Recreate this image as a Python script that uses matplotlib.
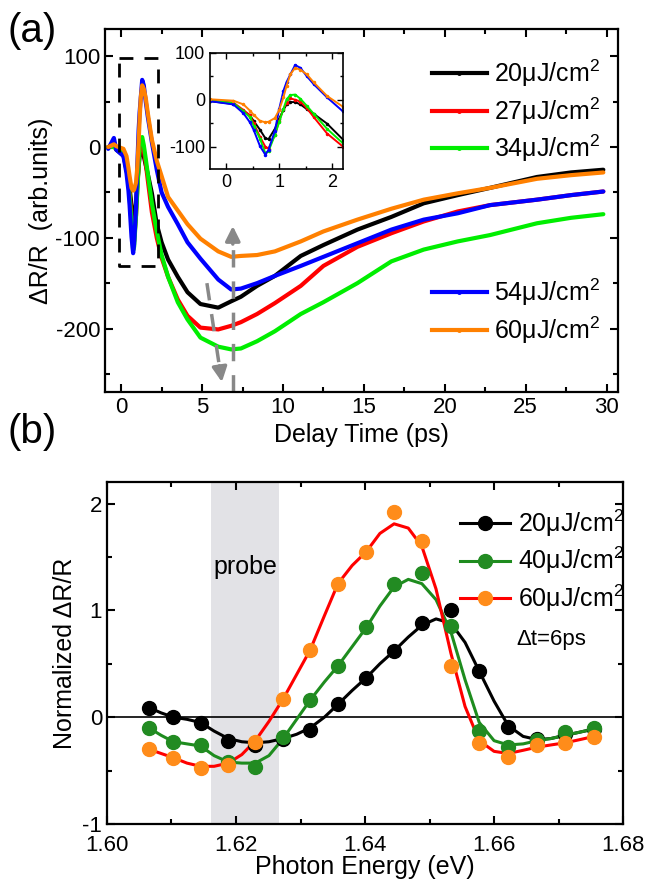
import matplotlib
matplotlib.use("Agg")
import matplotlib.pyplot as plt
from matplotlib.lines import Line2D
from matplotlib.ticker import MultipleLocator

plt.rcParams['font.family'] = ['Liberation Sans', 'DejaVu Sans']
plt.rcParams['mathtext.default'] = 'regular'
plt.rcParams['axes.unicode_minus'] = False

#========== DATA (a) ==========#

delay = [-0.8, -0.45, -0.3, 0.14, 0.33, 0.45, 0.52, 0.64, 0.74, 0.8, 0.92, 1.0,
         1.08, 1.14, 1.21, 1.3, 1.4, 1.52, 1.65, 1.9,
         2.2, 2.5, 2.9, 3.5, 4.1, 4.9, 6.0, 6.8, 7.4, 8.4, 9.5, 11.1, 12.5,
         14.6, 16.7, 18.7, 20.8, 22.8, 25.7, 27.8, 29.8]

dr_20 = [0, 2, -3, -9, -25, -33, -45, -64, -82, -84, -62, -40,
         -22, -10, -5, -5, -10, -20, -30, -51,
         -85, -105, -124, -143, -160, -173, -177, -170, -165, -153, -142, -120, -108,
         -91, -77, -62, -53, -45, -33, -28, -25]
dr_27 = [0, 2, -2, -6, -22, -33, -50, -79, -100, -104, -75, -45,
         -20, -6, 3, 0, -4, -18, -37, -72,
         -100, -122, -143, -168, -186, -199, -201, -197, -193, -184, -172, -153, -131,
         -110, -95, -82, -71, -64, -58, -53, -49]
dr_34 = [0, 0, -2, -7, -25, -37, -55, -83, -114, -110, -75, -48,
         -20, 1, 10, 11, 2, -13, -30, -62,
         -93, -119, -143, -171, -190, -210, -220, -223, -222, -214, -203, -184, -171,
         -150, -126, -113, -104, -97, -84, -78, -74]
dr_54 = [-2, 10, -3, -10, -29, -48, -64, -99, -117, -107, -66, -20,
         19, 38, 54, 74, 68, 50, 33, 5,
         -25, -50, -66, -85, -105, -123, -146, -157, -156, -150, -142, -131, -121,
         -106, -91, -80, -73, -64, -58, -53, -49]
dr_60 = [0, 3, 1, -2, -10, -23, -32, -45, -48, -47, -39, -22,
         5, 30, 54, 68, 64, 54, 37, 8,
         -15, -32, -55, -70, -85, -101, -115, -121, -120, -119, -115, -104, -93,
         -80, -68, -58, -51, -45, -35, -31, -28]

fluences_a = ["20", "27", "34", "54", "60"]
colors_a = ["#000000", "#ff0000", "#00ee00", "#0000ff", "#ff8000"]

#========== DATA (b) ==========#

energy = [1.6065, 1.6103, 1.6145, 1.6188, 1.6230, 1.6273, 1.6315, 1.6358, 1.6402,
          1.6445, 1.6488, 1.6533, 1.6577, 1.6622, 1.6667, 1.6710, 1.6755]
norm_20 = [0.09, 0.0, -0.05, -0.22, -0.26, -0.2, -0.12, 0.12, 0.37,
           0.62, 0.88, 1.0, 0.43, -0.09, -0.2, -0.16, -0.11]
norm_40 = [-0.1, -0.23, -0.26, -0.42, -0.47, -0.19, 0.16, 0.48, 0.84,
           1.25, 1.35, 0.85, -0.13, -0.28, -0.21, -0.14, -0.1]
norm_60 = [-0.3, -0.38, -0.48, -0.45, -0.23, 0.17, 0.63, 1.25, 1.55,
           1.92, 1.65, 0.48, -0.24, -0.37, -0.26, -0.24, -0.19]

# fitted curves read at the data energies and the midpoints between them
fit_energy = [1.6065, 1.6084, 1.6103, 1.6124, 1.6145, 1.6166, 1.6188, 1.6209, 1.6230,
              1.6251, 1.6273, 1.6294, 1.6315, 1.6337, 1.6358, 1.6380, 1.6402, 1.6423,
              1.6445, 1.6467, 1.6488, 1.6510, 1.6533, 1.6555, 1.6577, 1.6600, 1.6622,
              1.6645, 1.6667, 1.6688, 1.6710, 1.6733, 1.6755]
fit_20 = [0.09, 0.04, 0.0, -0.02, -0.05, -0.13, -0.2, -0.23, -0.24,
          -0.23, -0.2, -0.16, -0.1, 0.0, 0.12, 0.25, 0.37, 0.5,
          0.62, 0.75, 0.86, 0.92, 0.88, 0.7, 0.43, 0.15, -0.08,
          -0.18, -0.21, -0.2, -0.17, -0.14, -0.11]
fit_40 = [-0.1, -0.17, -0.23, -0.25, -0.27, -0.36, -0.42, -0.43, -0.43,
          -0.36, -0.2, -0.02, 0.16, 0.33, 0.48, 0.66, 0.84, 1.04,
          1.22, 1.29, 1.25, 1.1, 0.8, 0.35, -0.05, -0.22, -0.26,
          -0.25, -0.22, -0.2, -0.17, -0.14, -0.11]
fit_60 = [-0.3, -0.34, -0.38, -0.43, -0.46, -0.46, -0.43, -0.35, -0.22,
          -0.04, 0.17, 0.4, 0.63, 0.95, 1.25, 1.42, 1.55, 1.72,
          1.81, 1.77, 1.6, 1.2, 0.6, 0.1, -0.22, -0.32, -0.34,
          -0.31, -0.28, -0.26, -0.24, -0.21, -0.18]

fluences_b = ["20", "40", "60"]
line_colors_b = ["#000000", "#1e8c1e", "#ff0000"]
dot_colors_b = ["#000000", "#228b22", "#ff8c1a"]

#========== FIGURE ==========#


def style_axes(axes, size=16):
    """ticks inward on all four sides"""
    axes.tick_params(which="both", direction="in", top=True, right=True,
                     labelsize=size, width=1.5)
    axes.tick_params(which="major", length=6)
    axes.tick_params(which="minor", length=3.5)
    for spine in axes.spines.values():
        spine.set_linewidth(1.6)


def fluence_label(value):
    return value + "\u03bcJ/cm$^2$"


fig = plt.figure(figsize=(6.46, 8.81), dpi=100)

# ---- panel (a) ----
ax_a = fig.add_axes([0.1625, 0.555, 0.794, 0.412])
series_a = [dr_20, dr_27, dr_34, dr_54, dr_60]
handles_a = []
for values, color, label in zip(series_a, colors_a, fluences_a):
    ax_a.plot(delay, values, color=color, lw=3, solid_capstyle="round")
    handles_a.append(Line2D([], [], color=color, lw=3, marker=".", markersize=5,
                            markevery=[1], label=fluence_label(label)))

ax_a.set_xlim(-1, 30.7)
ax_a.set_ylim(-270, 130)
ax_a.xaxis.set_major_locator(MultipleLocator(5))
ax_a.xaxis.set_minor_locator(MultipleLocator(2.5))
ax_a.yaxis.set_major_locator(MultipleLocator(100))
ax_a.yaxis.set_minor_locator(MultipleLocator(50))
style_axes(ax_a)
ax_a.set_xlabel("Delay Time (ps)", fontsize=18, labelpad=4)
ax_a.set_ylabel("\u0394R/R  (arb.units)", fontsize=18, labelpad=2)

# dashed box around the early-time region
ax_a.plot([-0.12, 2.3, 2.3, -0.12, -0.12], [98, 98, -131, -131, 98],
          color="black", lw=2, ls=(0, (5, 4)))

# grey dashed arrows
ax_a.plot([5.3, 6.1], [-150, -245], color="#888888", lw=2.5, ls=(0, (5, 4)))
ax_a.annotate("", xy=(6.25, -262), xytext=(6.05, -238),
              arrowprops=dict(arrowstyle="-|>", color="#888888", lw=2.5,
                              mutation_scale=22))
ax_a.plot([6.9, 6.9], [-270, -100], color="#888888", lw=2.5, ls=(0, (5, 4)),
          clip_on=False)
ax_a.annotate("", xy=(6.9, -84), xytext=(6.9, -110),
              arrowprops=dict(arrowstyle="-|>", color="#888888", lw=2.5,
                              mutation_scale=22))

leg1 = ax_a.legend(handles=handles_a[:3], loc="upper right", fontsize=18,
                   frameon=False, handlelength=2.2, handletextpad=0.3,
                   labelspacing=0.25, borderaxespad=0.3,
                   bbox_to_anchor=(1.0, 0.97))
ax_a.add_artist(leg1)
ax_a.legend(handles=handles_a[3:], loc="lower right", fontsize=18,
            frameon=False, handlelength=2.2, handletextpad=0.3,
            labelspacing=0.25, borderaxespad=0.3, bbox_to_anchor=(1.0, 0.08))

fig.text(0.012, 0.952, "(a)", fontsize=29)

# ---- inset ----
ax_in = fig.add_axes([0.325, 0.808, 0.206, 0.132])
for values, color in zip(series_a, colors_a):
    ax_in.plot(delay, values, color=color, lw=1.4, marker=".", markersize=3)
ax_in.set_xlim(-0.3, 2.2)
ax_in.set_ylim(-148, 100)
ax_in.xaxis.set_major_locator(MultipleLocator(1))
ax_in.xaxis.set_minor_locator(MultipleLocator(0.5))
ax_in.yaxis.set_major_locator(MultipleLocator(100))
ax_in.yaxis.set_minor_locator(MultipleLocator(50))
ax_in.tick_params(which="both", direction="in", top=True, right=True,
                  labelsize=13, width=1)
ax_in.tick_params(which="major", length=4)
ax_in.tick_params(which="minor", length=2.5)
for spine in ax_in.spines.values():
    spine.set_linewidth(1.2)

# ---- panel (b) ----
ax_b = fig.add_axes([0.1656, 0.0647, 0.799, 0.388])
ax_b.axvspan(1.6161, 1.6267, color="#e2e2e6", zorder=0, lw=0)
ax_b.axhline(0, color="black", lw=1.2, zorder=1)
fits_b = [fit_20, fit_40, fit_60]
points_b = [norm_20, norm_40, norm_60]
handles_b = []
for fit, pts, lcol, dcol, label in zip(fits_b, points_b, line_colors_b,
                                       dot_colors_b, fluences_b):
    ax_b.plot(fit_energy, fit, color=lcol, lw=2.2, zorder=2)
    ax_b.plot(energy, pts, ls="none", marker="o", markersize=10,
              color=dcol, zorder=3)
    handles_b.append(Line2D([], [], color=lcol, lw=2.2, marker="o",
                            markersize=10, markerfacecolor=dcol,
                            markeredgecolor=dcol, label=fluence_label(label)))

ax_b.set_xlim(1.60, 1.68)
ax_b.set_ylim(-1, 2.2)
ax_b.xaxis.set_major_locator(MultipleLocator(0.02))
ax_b.xaxis.set_minor_locator(MultipleLocator(0.01))
ax_b.yaxis.set_major_locator(MultipleLocator(1))
ax_b.yaxis.set_minor_locator(MultipleLocator(0.5))
ax_b.set_xticks([1.60, 1.62, 1.64, 1.66, 1.68])
ax_b.set_xticklabels(["1.60", "1.62", "1.64", "1.66", "1.68"])
style_axes(ax_b)
ax_b.tick_params(axis="x", pad=8)
ax_b.set_xlabel("Photon Energy (eV)", fontsize=18, labelpad=-1)
ax_b.set_ylabel("Normalized \u0394R/R", fontsize=18, labelpad=4)

ax_b.text(1.6214, 1.41, "probe", fontsize=18, ha="center", va="center")
ax_b.text(1.6688, 0.73, "\u0394t=6ps", fontsize=16, ha="center", va="center")

ax_b.legend(handles=handles_b, loc="upper right", fontsize=18, frameon=False,
            handlelength=2.0, handletextpad=0.3, labelspacing=0.25,
            borderaxespad=0.2, bbox_to_anchor=(1.03, 0.97))

fig.text(0.012, 0.497, "(b)", fontsize=29)

fig.savefig("out.png", dpi=100)
